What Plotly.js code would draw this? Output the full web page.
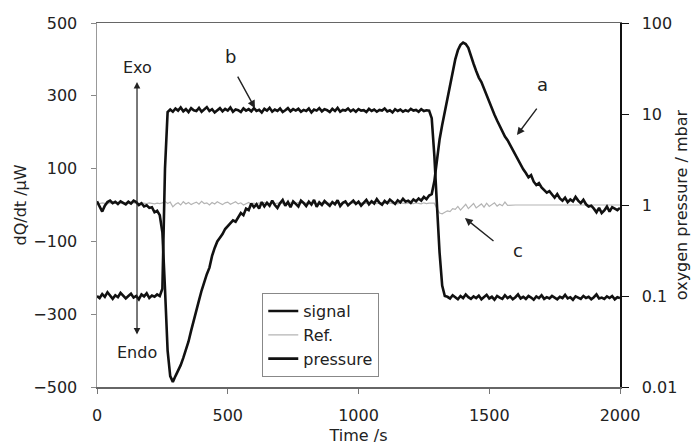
<!DOCTYPE html>
<html>
<head>
<meta charset="utf-8">
<script src="https://cdn.plot.ly/plotly-3.0.1.min.js"></script>
<style>html,body{margin:0;padding:0;background:#fff;}#chart{width:691px;height:446px;}</style>
</head>
<body>
<div id="chart"></div>
<script>
// Time axis (s)
var time = [
0,10,20,30,40,50,60,70,80,90,
100,110,120,130,140,150,160,170,180,190,
200,210,220,230,240,250,260,270,280,290,
300,310,320,330,340,350,360,370,380,390,
400,410,420,430,440,450,460,470,480,490,
500,510,520,530,540,550,560,570,580,590,
600,610,620,630,640,650,660,670,680,690,
700,710,720,730,740,750,760,770,780,790,
800,810,820,830,840,850,860,870,880,890,
900,910,920,930,940,950,960,970,980,990,
1000,1010,1020,1030,1040,1050,1060,1070,1080,1090,
1100,1110,1120,1130,1140,1150,1160,1170,1180,1190,
1200,1210,1220,1230,1240,1250,1260,1270,1280,1290,
1300,1310,1320,1330,1340,1350,1360,1370,1380,1390,
1400,1410,1420,1430,1440,1450,1460,1470,1480,1490,
1500,1510,1520,1530,1540,1550,1560,1570,1580,1590,
1600,1610,1620,1630,1640,1650,1660,1670,1680,1690,
1700,1710,1720,1730,1740,1750,1760,1770,1780,1790,
1800,1810,1820,1830,1840,1850,1860,1870,1880,1890,
1900,1910,1920,1930,1940,1950,1960,1970,1980,1990,
2000];

// dQ/dt signal (µW)
var signal = [
10,-5,-18,-2,8,12,5,9,3,10,
6,2,9,4,12,8,0,5,-4,-1,
-8,-6,-20,-16,-28,-75,-230,-400,-470,-486,
-470,-455,-440,-420,-400,-375,-345,-315,-290,-262,
-235,-210,-190,-172,-140,-118,-100,-90,-80,-66,
-58,-50,-42,-46,-32,-22,-28,-10,-14,4,
-6,2,-10,8,-4,6,-2,12,0,-8,
5,14,-2,8,-6,10,3,-4,12,6,
-3,9,1,14,-5,7,0,11,4,-2,
8,2,13,-3,6,10,-1,5,12,3,
9,-2,7,14,2,10,4,16,6,1,
11,5,15,8,3,13,7,17,9,12,
6,15,10,18,12,22,16,26,30,65,
130,180,220,258,290,330,368,400,425,440,
446,442,432,408,388,368,350,338,320,300,
282,262,248,232,218,200,188,178,165,150,
135,122,110,98,88,76,82,64,55,60,
48,40,34,38,28,20,30,18,12,20,
8,15,10,22,12,5,14,2,-4,-2,
-10,-20,-8,-22,-15,-4,-18,-6,-10,-14,
-8];

// Reference signal (µW)
var ref = [
5,4,6,5,3,6,4,5,7,5,
4,6,5,3,6,5,4,6,5,4,
6,5,3,5,4,6,10,4,8,-5,
2,6,0,9,3,7,1,5,8,2,
10,4,6,0,7,3,9,5,1,6,
8,2,5,9,3,6,0,4,7,2,
5,3,6,4,7,5,3,6,4,5,
6,4,5,3,6,5,4,7,5,4,
6,5,3,5,4,6,5,4,6,5,
4,6,5,3,6,5,4,6,5,4,
5,6,4,5,3,6,5,4,6,5,
4,5,6,4,5,3,6,5,4,6,
5,4,6,5,3,6,4,5,6,5,
-10,-22,-24,-20,-16,-18,-10,-12,-4,-14,
-6,2,-10,-4,4,-8,-2,3,-6,5,
-4,0,6,-3,2,-2,8,-1,0,0,
0,0,0,0,0,0,0,0,0,0,
0,0,0,0,0,0,0,0,0,0,
0,0,0,0,0,0,0,0,0,0,
0,0,0,0,0,0,0,0,0,0,
0];

// Oxygen pressure (mbar)
var pressure = [
0.1,0.095,0.105,0.098,0.11,0.1,0.093,0.102,0.097,0.108,
0.1,0.094,0.1,0.106,0.096,0.1,0.092,0.104,0.099,0.107,
0.095,0.101,0.098,0.104,0.1,
0.12,2.5,10.5,
11.2,10.6,11.5,10.9,11.8,10.7,11.3,10.5,11.6,11.0,
10.8,11.7,10.6,11.2,11.9,10.8,11.3,10.4,11.1,11.6,
10.7,11.4,10.9,11.8,10.6,11.2,11.0,10.5,11.5,10.9,
11.3,10.7,11.6,10.8,11.1,10.4,11.4,10.9,11.7,10.6,
11.2,10.8,11.5,10.5,11.0,11.6,10.7,11.3,10.9,11.4,
10.6,11.1,10.8,11.5,10.4,11.2,10.9,11.6,10.7,11.3,
11.0,10.5,11.4,10.8,11.7,10.6,11.1,10.9,11.5,10.7,
11.2,10.6,11.3,10.9,11.0,10.5,11.4,10.8,11.2,10.6,
11.1,10.9,11.5,10.7,11.0,10.4,11.3,10.8,11.2,10.6,
11.0,10.7,11.4,10.9,11.1,10.6,11.3,10.8,11.0,10.9,
9.0,3.5,1.0,0.3,0.13,0.1,
0.098,0.094,0.102,0.096,0.092,0.1,0.095,0.104,0.097,0.093,
0.099,0.095,0.101,0.092,0.097,0.103,0.094,0.098,0.091,0.1,
0.096,0.093,0.102,0.095,0.099,0.092,0.097,0.104,0.094,0.098,
0.093,0.1,0.096,0.091,0.099,0.095,0.102,0.093,0.097,0.094,
0.1,0.096,0.092,0.098,0.095,0.103,0.094,0.097,0.091,0.099,
0.096,0.093,0.1,0.095,0.098,0.092,0.097,0.104,0.094,0.096,
0.093,0.099,0.095,0.1,0.092,0.097,0.095];

var leftTicks = [-500,-300,-100,100,300,500];
var rightTickVals = [0.01,0.1,1,10,100];
var rightTickText = ['0.01','0.1','1','10','100'];
var xTicks = [0,500,1000,1500,2000];

var FONT = 'DejaVu Sans, Liberation Sans, Arial, sans-serif';
var TXT = '#222';

var traces = [
  {x: time, y: ref, name: 'Ref.', type: 'scatter', mode: 'lines', yaxis: 'y',
   line: {color: '#b4b4b4', width: 1.2}, legendrank: 2},
  {x: time, y: signal, name: 'signal', type: 'scatter', mode: 'lines', yaxis: 'y',
   line: {color: '#111', width: 2.6}, legendrank: 1},
  {x: time, y: pressure, name: 'pressure', type: 'scatter', mode: 'lines', yaxis: 'y2',
   line: {color: '#111', width: 2.6}, legendrank: 3}
];

function arrow(x, y, ax, ay) {
  return {x: x, y: y, ax: ax, ay: ay, xref: 'x', yref: 'y', axref: 'x', ayref: 'y',
          text: '', showarrow: true, arrowhead: 2, arrowsize: 1.1, arrowwidth: 1.4,
          arrowcolor: '#222', standoff: 0, startstandoff: 0};
}
function label(x, y, t, size) {
  return {x: x, y: y, xref: 'x', yref: 'y', text: t, showarrow: false,
          font: {family: FONT, size: size, color: TXT}};
}

var exoArrow = arrow(153, 338, 153, -360);
exoArrow.arrowside = 'end+start';
exoArrow.arrowwidth = 1.2;

var layout = {
  width: 691, height: 446,
  margin: {l: 97, r: 71, t: 23, b: 59},
  paper_bgcolor: '#fff', plot_bgcolor: '#fff',
  font: {family: FONT, size: 16, color: TXT},
  showlegend: true,
  legend: {x: 0.316, y: 0.258, xanchor: 'left', yanchor: 'top',
           bgcolor: '#fff', bordercolor: '#888', borderwidth: 1,
           font: {family: FONT, size: 16, color: TXT}, itemwidth: 30,
           tracegroupgap: 0},
  xaxis: {range: [0, 2000], tickvals: xTicks, ticks: 'outside', ticklen: 5,
          tickcolor: '#777', showline: true, linecolor: '#666', linewidth: 1.5,
          mirror: true, showgrid: false, zeroline: false,
          ticklabelstandoff: 8,
          title: {text: 'Time /s', standoff: 6, font: {family: FONT, size: 16, color: TXT}}},
  yaxis: {range: [-500, 500], tickvals: leftTicks, ticks: 'outside', ticklen: 5,
          tickcolor: '#888', showline: true, linecolor: '#999', linewidth: 1.5,
          showgrid: false, zeroline: false, ticklabelstandoff: 10,
          title: {text: 'dQ/dt /μW', standoff: 2, font: {family: FONT, size: 16, color: TXT}}},
  yaxis2: {type: 'log', range: [-2, 2], overlaying: 'y', side: 'right', anchor: 'x',
           tickvals: rightTickVals, ticktext: rightTickText, ticks: 'outside', ticklen: 7,
           tickcolor: '#111', showline: true, linecolor: '#111', linewidth: 1.5,
           showgrid: false, zeroline: false, ticklabelstandoff: 10,
           title: {text: 'oxygen pressure / mbar', standoff: 14, font: {family: FONT, size: 16, color: TXT}}},
  yaxis3: {type: 'log', range: [-2, 2], overlaying: 'y', side: 'right', anchor: 'x',
           tickvals: rightTickVals, ticks: 'inside', ticklen: 7, tickcolor: '#111',
           showticklabels: false, showline: false, showgrid: false, zeroline: false},
  annotations: [
    exoArrow,
    label(153, 379, 'Exo', 16),
    label(153, -404, 'Endo', 16),
    label(509, 407, 'b', 18),
    arrow(604, 266, 535, 357),
    label(1705, 330, 'a', 18),
    arrow(1606, 192, 1686, 269),
    label(1610, -124, 'c', 18),
    arrow(1407, -36, 1522, -102)
  ]
};

Plotly.newPlot('chart', traces, layout, {displayModeBar: false, staticPlot: true});
</script>
</body>
</html>
